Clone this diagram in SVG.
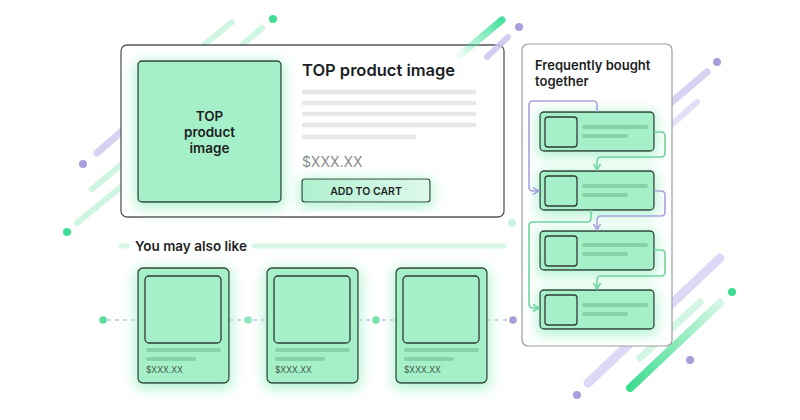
<svg xmlns="http://www.w3.org/2000/svg" width="800" height="420" viewBox="0 0 800 420">
<defs>
<style>
.t{font-family:Inter,"Open Sans","Liberation Sans",sans-serif;fill:#1c1f24;font-weight:600}
.deco{fill:none;stroke-linecap:round}
.mint{fill:#a6f0c9;stroke:#2f3a34;stroke-width:1.3}
.gray{stroke:#e6e7e9;stroke-width:4.5;stroke-linecap:round}
.bar{stroke:#86d2a7;stroke-width:4;stroke-linecap:round}
.cp{fill:none;stroke:#a8a2dc;stroke-width:1.6}
.cg{fill:none;stroke:#6ed5a0;stroke-width:1.6}
.price{font-family:Inter,"Open Sans","Liberation Sans",sans-serif;font-size:8.5px;fill:#3d5b4a}
</style>
<filter id="glow" x="-40%" y="-40%" width="180%" height="180%">
<feMorphology in="SourceAlpha" operator="dilate" radius="2" result="d"/>
<feOffset in="d" dy="3" result="o"/>
<feGaussianBlur in="o" stdDeviation="6.5" result="b"/>
<feFlood flood-color="#96efc2" flood-opacity="0.75"/>
<feComposite in2="b" operator="in" result="g"/>
<feMerge><feMergeNode in="g"/><feMergeNode in="SourceGraphic"/></feMerge>
</filter>
<linearGradient id="btn" x1="0" y1="0" x2="1" y2="0">
<stop offset="0" stop-color="#b0f1cf"/>
<stop offset="1" stop-color="#def9ec"/>
</linearGradient>
<linearGradient id="gTR" x1="502" y1="20" x2="460" y2="55" gradientUnits="userSpaceOnUse">
<stop offset="0" stop-color="#44e19b"/>
<stop offset="1" stop-color="#44e19b" stop-opacity="0.1"/>
</linearGradient>
<linearGradient id="gBR" x1="720" y1="303" x2="630" y2="388" gradientUnits="userSpaceOnUse">
<stop offset="0" stop-color="#d4f7e4"/>
<stop offset="1" stop-color="#3ddc91"/>
</linearGradient>
<marker id="ap" viewBox="0 0 8 8" refX="7" refY="4" markerWidth="8" markerHeight="8" markerUnits="userSpaceOnUse" orient="auto">
<path d="M1,0.5 L7,4 L1,7.5" fill="none" stroke="#a8a2dc" stroke-width="1.5"/>
</marker>
<marker id="ag" viewBox="0 0 8 8" refX="7" refY="4" markerWidth="8" markerHeight="8" markerUnits="userSpaceOnUse" orient="auto">
<path d="M1,0.5 L7,4 L1,7.5" fill="none" stroke="#6ed5a0" stroke-width="1.5"/>
</marker>
</defs>
<rect width="800" height="420" fill="#ffffff"/>

<g id="decor-back">
<line class="deco" x1="232" y1="22" x2="205" y2="44" stroke="#cff6e1" stroke-width="6"/>
<line class="deco" x1="262" y1="28" x2="243" y2="44" stroke="#cff6e1" stroke-width="6"/>
<circle cx="273" cy="19" r="4" fill="#3fdd93"/>
<line class="deco" x1="97" y1="153" x2="122" y2="131" stroke="#d6d2f2" stroke-width="7"/>
<circle cx="83" cy="164" r="4" fill="#a79fdc"/>
<line class="deco" x1="92" y1="189" x2="122" y2="164" stroke="#cdf5df" stroke-width="6"/>
<line class="deco" x1="77" y1="223" x2="122" y2="186" stroke="#cdf5df" stroke-width="6"/>
<circle cx="67" cy="232" r="4" fill="#3fdd93"/>
<circle cx="519" cy="27" r="4" fill="#a79fdc"/>
<line class="deco" x1="707" y1="72" x2="660" y2="112" stroke="#d6d2f2" stroke-width="7"/>
<line class="deco" x1="697" y1="102" x2="668" y2="128" stroke="#e2dff7" stroke-width="6"/>
<circle cx="717" cy="62" r="4" fill="#a79fdc"/>
<line class="deco" x1="720" y1="258" x2="588" y2="383" stroke="#dcd8f5" stroke-width="9"/>
<line class="deco" x1="700" y1="302" x2="640" y2="358" stroke="#d2f6e2" stroke-width="7"/>
<line class="deco" x1="720" y1="303" x2="630" y2="388" stroke="url(#gBR)" stroke-width="8"/>
<circle cx="732" cy="292" r="4" fill="#3fdd93"/>
<circle cx="690" cy="360" r="4" fill="#a79fdc"/>
<circle cx="577" cy="395" r="4" fill="#a79fdc"/>
<circle cx="512" cy="223" r="4" fill="#c8f4dc"/>
</g>

<g id="main-card">
<rect x="121" y="45" width="383" height="172" rx="6" fill="#ffffff" stroke="#555a5e" stroke-width="1.3"/>
<g id="top-image">
<rect class="mint" x="138" y="61" width="143" height="141" rx="4" filter="url(#glow)"/>
<text class="t" x="209.5" y="121" font-size="13.5" text-anchor="middle" fill="#1e3a2c">TOP</text>
<text class="t" x="209.5" y="137" font-size="13.5" text-anchor="middle">product</text>
<text class="t" x="209.5" y="153" font-size="13.5" text-anchor="middle">image</text>
</g>
<text class="t" x="302" y="76" font-size="16.5">TOP product image</text>
<line class="gray" x1="304" y1="92" x2="474" y2="92"/>
<line class="gray" x1="304" y1="103" x2="474" y2="103"/>
<line class="gray" x1="304" y1="114" x2="474" y2="114"/>
<line class="gray" x1="304" y1="125" x2="474" y2="125"/>
<line class="gray" x1="304" y1="137" x2="414" y2="137"/>
<text x="302" y="167" font-family="Inter,'Open Sans','Liberation Sans',sans-serif" font-size="14" fill="#8a8d90">$XXX.XX</text>
<g id="add-to-cart">
<rect x="302" y="179" width="128" height="23" rx="3" fill="url(#btn)" stroke="#2f3a34" stroke-width="1.2" filter="url(#glow)"/>
<text class="t" x="366" y="194.5" font-size="10.5" text-anchor="middle">ADD TO CART</text>
</g>
</g>

<g id="decor-front">
<line class="deco" x1="502" y1="20" x2="460" y2="55" stroke="url(#gTR)" stroke-width="7"/>
<line class="deco" x1="508" y1="37" x2="487" y2="57" stroke="#cbc6ef" stroke-width="6" opacity="0.85"/>
</g>

<g id="panel">
<rect x="522" y="44" width="150" height="302" rx="6" fill="#ffffff" stroke="#9a9da0" stroke-width="1.2"/>
<text class="t" x="535" y="70" font-size="13">Frequently bought</text>
<text class="t" x="535" y="86" font-size="13">together</text>
</g>

<g id="fbt-1">
<rect class="mint" x="540" y="112" width="114" height="39" rx="4" filter="url(#glow)"/>
<rect class="mint" x="545" y="117" width="32" height="30" rx="3"/>
<line class="bar" x1="584" y1="127" x2="646" y2="127"/>
<line class="bar" x1="584" y1="136" x2="626" y2="136"/>
</g>
<g id="fbt-2">
<rect class="mint" x="540" y="171" width="114" height="39" rx="4" filter="url(#glow)"/>
<rect class="mint" x="545" y="176" width="32" height="30" rx="3"/>
<line class="bar" x1="584" y1="186" x2="646" y2="186"/>
<line class="bar" x1="584" y1="195" x2="626" y2="195"/>
</g>
<g id="fbt-3">
<rect class="mint" x="540" y="231" width="114" height="39" rx="4" filter="url(#glow)"/>
<rect class="mint" x="545" y="236" width="32" height="30" rx="3"/>
<line class="bar" x1="584" y1="245" x2="646" y2="245"/>
<line class="bar" x1="584" y1="254" x2="626" y2="254"/>
</g>
<g id="fbt-4">
<rect class="mint" x="540" y="290" width="114" height="39" rx="4" filter="url(#glow)"/>
<rect class="mint" x="545" y="295" width="32" height="30" rx="3"/>
<line class="bar" x1="584" y1="305" x2="646" y2="305"/>
<line class="bar" x1="584" y1="314" x2="626" y2="314"/>
</g>

<g id="connectors">
<path class="cp" d="M597,112 V105 Q597,101 593,101 H533 Q529,101 529,105 V187 Q529,191 533,191 H539" marker-end="url(#ap)"/>
<path class="cg" d="M654,132 H661 Q665,132 665,136 V153 Q665,157 661,157 H601 Q597,157 597,161 V170" marker-end="url(#ag)"/>
<path class="cp" d="M654,191 H661 Q665,191 665,195 V212 Q665,216 661,216 H601 Q597,216 597,220 V230" marker-end="url(#ap)"/>
<path class="cg" d="M591,210 V218 Q591,222 587,222 H533 Q529,222 529,226 V304 Q529,308 533,308 H539" marker-end="url(#ag)"/>
<path class="cg" d="M654,250 H661 Q665,250 665,254 V272 Q665,276 661,276 H601 Q597,276 597,280 V289" marker-end="url(#ag)"/>
<g stroke="#c4c1dc" stroke-width="1.5" stroke-dasharray="4 4">
<line x1="107" y1="320" x2="138" y2="320"/>
<line x1="229" y1="320" x2="267" y2="320"/>
<line x1="358" y1="320" x2="396" y2="320"/>
<line x1="487" y1="320" x2="509" y2="320"/>
</g>
<circle cx="103" cy="320" r="3.8" fill="#5fdca0"/>
<circle cx="248" cy="320" r="3.8" fill="#8fe6bb"/>
<circle cx="376" cy="320" r="3.8" fill="#7ae0ad"/>
<circle cx="513" cy="320" r="3.8" fill="#a79fdc"/>
</g>

<g id="also-like">
<line x1="121" y1="246" x2="127" y2="246" stroke="#d6f8e6" stroke-width="5" stroke-linecap="round"/>
<text class="t" x="135" y="251" font-size="13.5">You may also like</text>
<line x1="254" y1="246" x2="504" y2="246" stroke="#d6f8e6" stroke-width="5" stroke-linecap="round"/>
</g>

<g id="card-1">
<rect class="mint" x="138" y="268" width="91" height="115" rx="5" filter="url(#glow)"/>
<rect class="mint" x="145" y="276" width="76" height="67" rx="4"/>
<line class="bar" x1="148" y1="350" x2="219" y2="350"/>
<line class="bar" x1="148" y1="359" x2="194" y2="359"/>
<text class="price" x="146" y="372.5">$XXX.XX</text>
</g>
<g id="card-2">
<rect class="mint" x="267" y="268" width="91" height="115" rx="5" filter="url(#glow)"/>
<rect class="mint" x="274" y="276" width="76" height="67" rx="4"/>
<line class="bar" x1="277" y1="350" x2="348" y2="350"/>
<line class="bar" x1="277" y1="359" x2="323" y2="359"/>
<text class="price" x="275" y="372.5">$XXX.XX</text>
</g>
<g id="card-3">
<rect class="mint" x="396" y="268" width="91" height="115" rx="5" filter="url(#glow)"/>
<rect class="mint" x="403" y="276" width="76" height="67" rx="4"/>
<line class="bar" x1="406" y1="350" x2="477" y2="350"/>
<line class="bar" x1="406" y1="359" x2="452" y2="359"/>
<text class="price" x="404" y="372.5">$XXX.XX</text>
</g>
</svg>
